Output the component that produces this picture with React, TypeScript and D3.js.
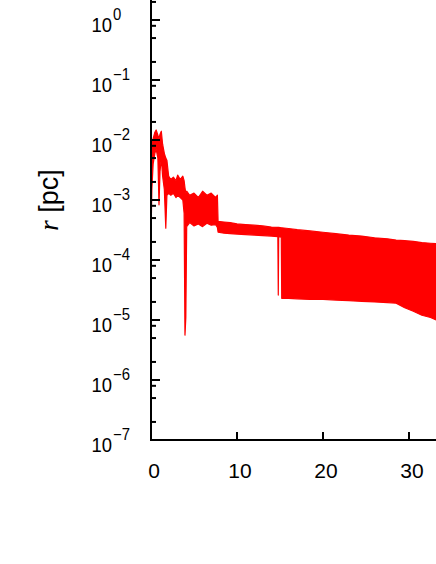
import React from 'react';
import * as d3 from 'd3';

const W = 436;
const H = 564;

// x axis ticks (time units)
const xTickValues = [0, 10, 20, 30];
// y axis decades (log10 of r in pc)
const yDecades = [-7, -6, -5, -4, -3, -2, -1, 0];
const yMinorMultipliers = [2, 5, 8];

// Envelope of the red curve
const tVals = [
  0.0, 0.1, 0.25, 0.45, 0.6, 0.8, 0.93, 1.05, 1.2, 1.35, 1.55, 1.72, 1.85,
  2.05, 2.3, 2.6, 2.9, 3.1, 3.4, 3.7, 3.85, 3.95, 4.05, 4.15, 4.5, 5.0, 5.5,
  6.0, 6.5, 7.0, 7.5, 7.72, 7.8, 8.5, 9.2, 10.0, 11.0, 12.0, 13.0, 14.0,
  14.75, 14.8, 14.85, 15.15, 15.2, 16.0, 17.0, 18.5, 20.0, 21.5, 23.0, 24.5,
  26.0, 27.5, 28.5, 29.5, 30.5, 31.5, 32.5, 33.5, 35.0,
];
const rHi = [
  6.0e-3, 8.0e-3, 1.05e-2, 1.35e-2, 1.47e-2, 1.2e-2, 1.05e-2, 1.25e-2, 1.4e-2,
  8.5e-3, 6.0e-3, 5.0e-3, 4.6e-3, 2.5e-3, 2.2e-3, 2.4e-3, 2.1e-3, 2.6e-3,
  2.2e-3, 2.5e-3, 2.1e-3, 1.6e-3, 1.3e-3, 1.4e-3, 1.2e-3, 1.3e-3, 1.1e-3,
  1.4e-3, 1.2e-3, 1.3e-3, 1.1e-3, 1.2e-3, 4.4e-4, 4.3e-4, 4.2e-4, 4.0e-4,
  3.9e-4, 3.8e-4, 3.7e-4, 3.55e-4, 3.5e-4, 3.5e-4, 3.5e-4, 3.45e-4, 3.45e-4,
  3.35e-4, 3.2e-4, 3.05e-4, 2.9e-4, 2.75e-4, 2.6e-4, 2.5e-4, 2.35e-4,
  2.25e-4, 2.15e-4, 2.1e-4, 2.05e-4, 1.95e-4, 1.9e-4, 1.85e-4, 1.8e-4,
];
const rLo = [
  2.3e-4, 1.5e-3, 4.0e-3, 6.0e-3, 7.0e-3, 5.0e-3, 8.3e-4, 3.0e-3, 5.0e-3,
  2.5e-3, 1.5e-3, 3.4e-4, 1.2e-3, 1.3e-3, 1.2e-3, 1.3e-3, 1.1e-3, 1.2e-3,
  1.1e-3, 1.0e-3, 6.0e-4, 5.6e-6, 1.1e-5, 3.6e-4, 4.2e-4, 3.7e-4, 4.0e-4,
  3.6e-4, 4.1e-4, 3.8e-4, 3.9e-4, 3.5e-4, 2.9e-4, 2.8e-4, 2.75e-4, 2.7e-4,
  2.65e-4, 2.6e-4, 2.55e-4, 2.5e-4, 2.45e-4, 2.6e-5, 2.45e-4, 2.4e-4,
  2.3e-5, 2.3e-5, 2.25e-5, 2.2e-5, 2.2e-5, 2.15e-5, 2.1e-5, 2.05e-5, 2.0e-5,
  1.95e-5, 1.9e-5, 1.6e-5, 1.4e-5, 1.2e-5, 1.1e-5, 9.5e-6, 8.0e-6,
];

const AXIS_X = 151;
const AXIS_Y = 440;

export default function App() {
  const x = d3.scaleLinear().domain([0, 40]).range([AXIS_X, AXIS_X + 344]);
  const y = d3.scaleLog().domain([1e-7, 10]).range([AXIS_Y, AXIS_Y - 480]);

  const data = tVals.map((t, i) => ({ t, hi: rHi[i], lo: rLo[i] }));
  const area = d3
    .area<{ t: number; hi: number; lo: number }>()
    .x((d) => x(d.t))
    .y0((d) => y(d.lo))
    .y1((d) => y(d.hi));
  const path = area(data) || '';

  const minorTicks: number[] = [];
  yDecades.forEach((d) => {
    yMinorMultipliers.forEach((m) => minorTicks.push(m * Math.pow(10, d)));
  });

  const font = "'Liberation Sans', Arial, Helvetica, sans-serif";

  return (
    <div style={{ position: 'absolute', left: 0, top: 0 }}>
      <svg width={W} height={H} style={{ display: 'block', background: '#fff' }}>
        <rect x={0} y={0} width={W} height={H} fill="#fff" />
        <path d={path} fill="#ff0000" stroke="#ff0000" strokeWidth={1.2} strokeLinejoin="round" />

        {/* axes */}
        <line x1={AXIS_X} x2={AXIS_X} y1={-5} y2={AXIS_Y + 1} stroke="#000" strokeWidth={2} />
        <line x1={AXIS_X - 1} x2={W + 10} y1={AXIS_Y} y2={AXIS_Y} stroke="#000" strokeWidth={2} />

        {yDecades.map((d) => {
          const v = Math.pow(10, d);
          return (
            <line key={'ym' + d} x1={AXIS_X} x2={AXIS_X + 9} y1={y(v)} y2={y(v)} stroke="#000" strokeWidth={2} />
          );
        })}
        {minorTicks.map((v, i) => (
          <line key={'yn' + i} x1={AXIS_X} x2={AXIS_X + 5} y1={y(v)} y2={y(v)} stroke="#000" strokeWidth={2} />
        ))}
        {xTickValues.filter((v) => v > 0).map((v) => (
          <line key={'xt' + v} x1={x(v)} x2={x(v)} y1={AXIS_Y} y2={AXIS_Y - 8} stroke="#000" strokeWidth={2} />
        ))}

        {/* y tick labels: base "10" and exponent */}
        {yDecades.map((d) => {
          const yy = y(Math.pow(10, d));
          return (
            <g key={'yl' + d}>
              <text
                transform={`translate(112,${yy + 11.5}) scale(0.88,1)`}
                textAnchor="end"
                fontFamily={font}
                fontSize={21}
                fill="#000"
              >
                10
              </text>
              <text
                transform={`translate(113,${yy - 0.5}) scale(0.93,1)`}
                textAnchor="start"
                fontFamily={font}
                fontSize={16}
                fill="#000"
              >
                {String(d).replace('-', '\u2212')}
              </text>
            </g>
          );
        })}

        {/* x tick labels */}
        {xTickValues.map((v) => (
          <text key={'xl' + v} x={x(v) + 3} y={478} textAnchor="middle" fontFamily={font} fontSize={21} fill="#000">
            {v}
          </text>
        ))}

        {/* y axis title */}
        <text transform="translate(58,200) rotate(-90)" textAnchor="middle" fontSize={27} fill="#000">
          <tspan fontFamily="'Liberation Serif', 'Times New Roman', serif" fontStyle="italic">r</tspan>
          <tspan fontFamily={font}> [pc]</tspan>
        </text>
      </svg>
    </div>
  );
}
